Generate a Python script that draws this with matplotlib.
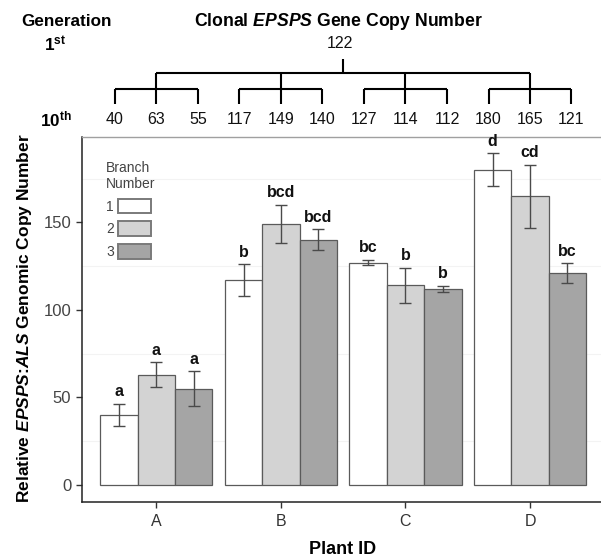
import numpy as np
import matplotlib
matplotlib.use("Agg")
import matplotlib.pyplot as plt
from matplotlib.patches import Patch

plt.rcParams['font.family'] = ['Liberation Sans', 'DejaVu Sans']
plt.rcParams['mathtext.fontset'] = 'custom'
plt.rcParams['mathtext.rm'] = 'Liberation Sans'
plt.rcParams['mathtext.bf'] = 'Liberation Sans:bold'
plt.rcParams['mathtext.it'] = 'Liberation Sans:italic'
plt.rcParams['mathtext.bfit'] = 'Liberation Sans:italic:bold'

# data
plants = ['A', 'B', 'C', 'D']
branches = ['1', '2', '3']
copy_num = np.array([[40, 63, 55],
                     [117, 149, 140],
                     [127, 114, 112],
                     [180, 165, 121]])
err = np.array([[6.5, 7, 10],
                [9, 11, 6],
                [1.5, 10, 1.7],
                [9.5, 18, 5.5]])
letters = [['a', 'a', 'a'],
           ['b', 'bcd', 'bcd'],
           ['bc', 'b', 'b'],
           ['d', 'cd', 'bc']]
first_gen = 122

colors = ['white', '#d3d3d3', '#a5a5a5']
W, H = 601, 558
bw = 0.30

fig = plt.figure(figsize=(W / 100, H / 100), dpi=100)
ax_l, ax_r, ax_b, ax_t = 81.7, 601, 501.7, 136.5
ax = fig.add_axes([ax_l / W, 1 - ax_b / H, (ax_r - ax_l) / W, (ax_b - ax_t) / H])

x = np.arange(len(plants))
for b in range(3):
    pos = x + (b - 1) * bw
    ax.bar(pos, copy_num[:, b], width=bw, color=colors[b], edgecolor='#5a5a5a',
           linewidth=0.9, zorder=2)
    ax.errorbar(pos, copy_num[:, b], yerr=err[:, b], fmt='none', ecolor='#4a4a4a',
                elinewidth=1.0, capsize=4.3, capthick=1.0, zorder=3)
    for i in range(len(plants)):
        ax.annotate(letters[i][b], (pos[i], copy_num[i, b] + err[i, b]),
                    xytext=(0, 5.5), textcoords='offset points', ha='center',
                    va='baseline', fontsize=11.5, fontweight='bold', color='#111')

ax.set_xlim(-0.6, 3.57)
ax.set_ylim(-9.5, 199)
ax.set_xticks(x)
ax.set_xticklabels(plants, fontsize=11.5, color='#333')
ax.set_yticks([0, 50, 100, 150])
ax.set_yticklabels(['0', '50', '100', '150'], fontsize=12, color='#444')
ax.set_yticks([25, 75, 125, 175], minor=True)
ax.tick_params(axis='y', which='minor', length=0)
ax.tick_params(axis='both', which='major', length=4, width=1, color='#333')
ax.tick_params(axis='x', which='major', pad=5)
ax.grid(axis='y', which='minor', color='#f3f3f3', linewidth=0.8, zorder=0)
ax.spines['right'].set_visible(False)
ax.spines['top'].set_color('#a0a0a0')
ax.spines['top'].set_linewidth(1.0)
for s in ['left', 'bottom']:
    ax.spines[s].set_color('#222')
    ax.spines[s].set_linewidth(1.1)

handles = [Patch(facecolor=c, edgecolor='#7a7a7a', linewidth=1.4) for c in colors]
leg = ax.legend(handles, branches, title='Branch\nNumber', loc='upper left',
                bbox_to_anchor=(99 / W, 1 - 154 / H), bbox_transform=fig.transFigure,
                frameon=False, fontsize=10, title_fontsize=10, markerfirst=False,
                handlelength=2.4, handleheight=1.25, labelspacing=0.55,
                handletextpad=0.3, borderpad=0, alignment='left', labelcolor='#444')
leg.get_title().set_color('#444')

# clonal tree above the panel, y in pixels from the top
tax = fig.add_axes([ax_l / W, 1 - ax_t / H, (ax_r - ax_l) / W, ax_t / H])
tax.set_xlim(ax.get_xlim())
tax.set_ylim(ax_t, 0)
tax.axis('off')
leaf_step = 0.333
y_leaf, y_low, y_br, y_top, y_root = 119, 104, 89, 72.5, 59
tree_kw = dict(color='black', linewidth=1.5, solid_capstyle='butt', clip_on=False)
for i in range(len(plants)):
    leaves = x[i] + (np.arange(3) - 1) * leaf_step
    tax.plot([leaves[0], leaves[-1]], [y_br, y_br], **tree_kw)
    for b, lx in enumerate(leaves):
        tax.plot([lx, lx], [y_br, y_low], **tree_kw)
        tax.text(lx, y_leaf, str(copy_num[i, b]), ha='center', va='center',
                 fontsize=11.5, color='#111')
    tax.plot([x[i], x[i]], [y_top, y_br], **tree_kw)
tax.plot([x[0], x[-1]], [y_top, y_top], **tree_kw)
xc = x.mean()
tax.plot([xc, xc], [y_root, y_top], **tree_kw)
tax.text(xc - 0.03, 44, str(first_gen), ha='center', va='center', fontsize=11.5, color='#111')
tax.text(xc - 0.04, 21, r'Clonal $\mathbfit{EPSPS}$ Gene Copy Number', ha='center',
         va='center', fontsize=12.7, fontweight='bold')

fig.text(67 / W, 1 - 22 / H, 'Generation', ha='center', va='center',
         fontsize=12.3, fontweight='bold')
fig.text(55 / W, 1 - 44 / H, r'1$^{\mathbf{st}}$', ha='center', va='center',
         fontsize=12.3, fontweight='bold')
fig.text(56 / W, 1 - 119 / H, r'10$^{\mathbf{th}}$', ha='center', va='center',
         fontsize=12.3, fontweight='bold')

fig.text(25 / W, 1 - 318 / H, r'Relative $\mathbfit{EPSPS}$:$\mathbfit{ALS}$ Genomic Copy Number',
         rotation=90, ha='center', va='center', fontsize=12.5, fontweight='bold')
fig.text(343 / W, 1 - 549 / H, 'Plant ID', ha='center', va='center',
         fontsize=13, fontweight='bold')

fig.savefig('out.png', dpi=100)
